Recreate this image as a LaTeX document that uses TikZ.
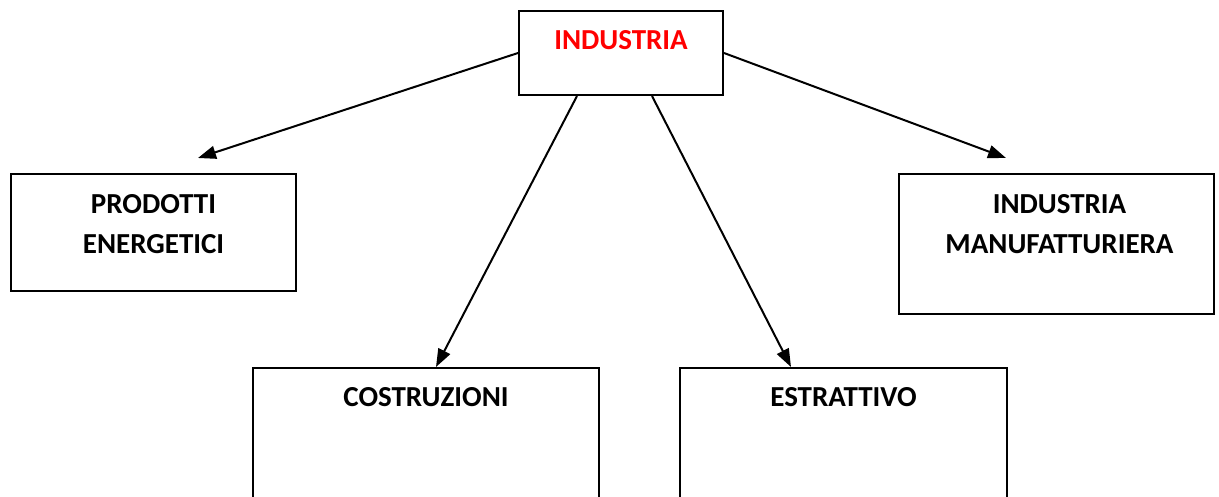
\documentclass[tikz,border=0pt]{standalone}
\usepackage{fontspec}
\setmainfont{Carlito}
\usetikzlibrary{arrows.meta,calc}

\tikzset{
  box/.style={draw=black, line width=1pt, inner sep=0pt, anchor=north west},
  lbl/.style={inner sep=0pt, anchor=north, align=center,
    font=\fontsize{14.5}{20}\selectfont\bfseries},
  arr/.style={line width=1pt, -{Triangle[length=9pt,width=6.5pt]}}
}

\begin{document}
\begin{tikzpicture}[x=0.5pt,y=-0.5pt]
    \useasboundingbox (0,0) rectangle (1219,497);
    \clip (0,0) rectangle (1219,497);
    % boxes
    \node[box, minimum width=102pt,   minimum height=42pt]   (ind)   at (518,10)  {};
    \node[box, minimum width=142.5pt, minimum height=58.5pt] (prod)  at (10,173)  {};
    \node[box, minimum width=157.5pt, minimum height=70pt]   (manuf) at (898,173) {};
    \node[box, minimum width=173pt,   minimum height=80pt]   (costr) at (252,367) {};
    \node[box, minimum width=163.5pt, minimum height=80pt]   (estr)  at (679,367) {};
    % texts
    \node[lbl, text=red] (ind-t)   at ($(ind.north)+(0,20)$)   {INDUSTRIA};
    \node[lbl]           (prod-t)  at ($(prod.north)+(0,21)$)  {PRODOTTI\\ENERGETICI};
    \node[lbl]           (manuf-t) at ($(manuf.north)+(3,21)$) {INDUSTRIA\\MANUFATTURIERA};
    \node[lbl]           (costr-t) at ($(costr.north)+(0,20)$) {COSTRUZIONI};
    \node[lbl]           (estr-t)  at ($(estr.north)+(0,20)$)  {ESTRATTIVO};
    % arrow ends above the side boxes
    \coordinate (prod-in)  at (198,158);
    \coordinate (manuf-in) at (1006,158);
    % connectors
    \draw[arr] (ind.west) -- (prod-in);
    \draw[arr] (ind.east) -- (manuf-in);
    \draw[arr] ($(ind.south)+(-44,0)$) -- ($(costr.north)+(10,0)$);
    \draw[arr] ($(ind.south)+(31,0)$)  -- ($(estr.north)+(-52.5,0)$);
\end{tikzpicture}
\end{document}
